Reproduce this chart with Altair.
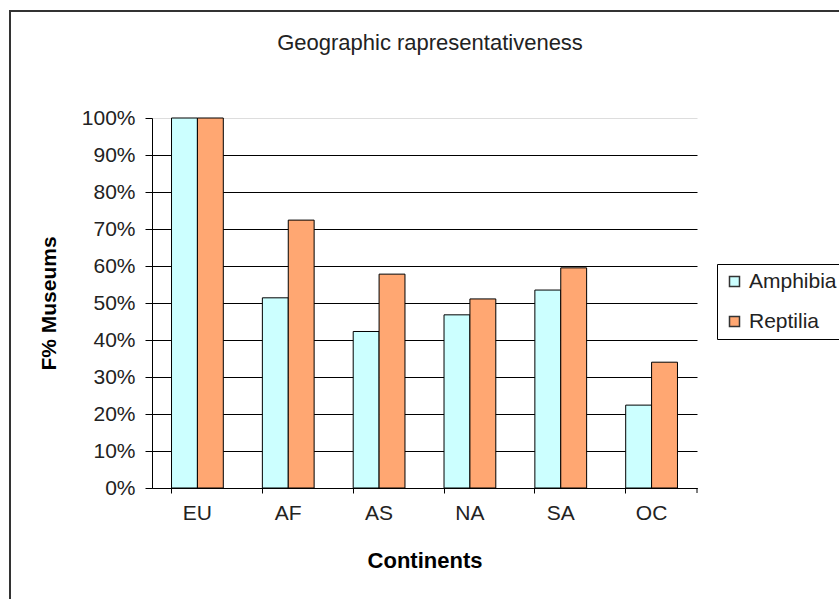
import altair as alt
import pandas as pd

continents = ["EU", "AF", "AS", "NA", "SA", "OC"]
amphibia = [1.00, 0.514, 0.423, 0.468, 0.535, 0.224]
reptilia = [1.00, 0.724, 0.578, 0.511, 0.595, 0.340]
series = ["Amphibia", "Reptilia"]
colors = ["#CCFFFF", "#FFA772"]
title_text = ["Geographic rapresentativeness"]
y_ticks = [0, 0.1, 0.2, 0.3, 0.4, 0.5, 0.6, 0.7, 0.8, 0.9, 1.0]

rows = []
for i, c in enumerate(continents):
    rows.append({"Continent": c, "Class": series[0], "value": amphibia[i]})
    rows.append({"Continent": c, "Class": series[1], "value": reptilia[i]})
df = pd.DataFrame(rows)

FONT = "Liberation Sans"
W, H = 545, 370

frame = alt.Chart(pd.DataFrame({"a": [0]})).mark_rect(
    fill=None, stroke="#333333", strokeWidth=2
).encode(
    x=alt.value(-142), x2=alt.value(W + 300),
    y=alt.value(-107), y2=alt.value(H + 300),
)

title = alt.Chart(pd.DataFrame({"t": title_text})).mark_text(
    font=FONT, fontSize=22, color="#222", align="center", baseline="middle"
).encode(text="t:N", x=alt.value(278), y=alt.value(-75))

end_tick = alt.Chart(pd.DataFrame({"a": [0]})).mark_rule(color="black").encode(
    x=alt.value(W), y=alt.value(H), y2=alt.value(H + 5)
)

bars = alt.Chart(df).mark_bar(stroke="black", strokeWidth=1).encode(
    x=alt.X("Continent:N", sort=continents,
            scale=alt.Scale(paddingInner=0.43, paddingOuter=0.215),
            axis=alt.Axis(title="Continents", labelAngle=0, bandPosition=0,
                          labelFontSize=21, labelColor="#222", labelPadding=9,
                          titleFontSize=22, titleFontWeight="bold", titlePadding=27,
                          tickColor="black", tickSize=5, domainColor="black",
                          labelFont=FONT, titleFont=FONT, grid=False)),
    xOffset=alt.XOffset("Class:N", sort=series),
    y=alt.Y("value:Q", scale=alt.Scale(domain=[0, 1]),
            axis=alt.Axis(title="F% Museums", format=".0%",
                          values=y_ticks, labelOverlap=False,
                          labelFontSize=21, labelColor="#222", labelPadding=10,
                          titleFontSize=21, titleFontWeight="bold", titlePadding=22,
                          tickColor="black", tickSize=7, domainColor="black",
                          labelFont=FONT, titleFont=FONT,
                          grid=True, gridOpacity=1, gridWidth=1,
                          gridColor=alt.condition(alt.datum.value >= 1,
                                                  alt.value("#dddddd"),
                                                  alt.value("black")))),
    fill=alt.Fill("Class:N", sort=series,
                  scale=alt.Scale(domain=series, range=colors),
                  legend=alt.Legend(title=None, orient="none", legendX=565, legendY=146,
                                    strokeColor="black", fillColor="white",
                                    padding=7, symbolType="square", symbolSize=100,
                                    symbolStrokeColor="#333", symbolStrokeWidth=1.5,
                                    labelFontSize=21, labelFont=FONT, labelColor="#222",
                                    labelOffset=4, rowPadding=18, symbolOpacity=1)),
)

chart = alt.layer(frame, title, end_tick, bars).properties(
    width=W, height=H,
    autosize=alt.AutoSizeParams(type="none"),
    padding={"left": 152, "top": 118, "right": 142, "bottom": 111},
    background="white",
).configure_view(stroke=None)

chart.save("out.html", embed_options={"renderer": "svg", "actions": False})
